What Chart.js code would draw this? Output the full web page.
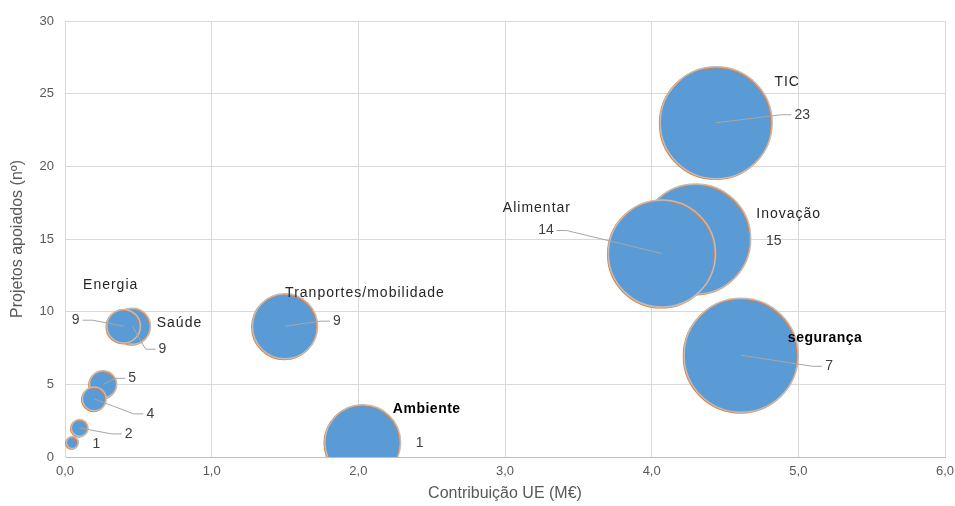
<!DOCTYPE html>
<html lang="pt">
<head>
<meta charset="utf-8">
<title>Projetos apoiados por setor</title>
<script src="https://cdn.jsdelivr.net/npm/chart.js@4.4.1/dist/chart.umd.min.js"></script>
<style>
  html, body { margin: 0; padding: 0; background: #fff; }
  #wrap { width: 955px; height: 506px; }
</style>
</head>
<body>
<div id="wrap"><canvas id="bChart"></canvas></div>
<script>
// Dados por setor (ordem de desenho: os últimos ficam por cima)
const setores = ["", "", "", "", "Saúde", "Energia", "Tranportes/mobilidade", "Ambiente", "Inovação", "Alimentar", "TIC", "segurança"];
const contribuicao = [0.05, 0.10, 0.26, 0.20, 0.46, 0.40, 1.50, 2.03, 4.30, 4.07, 4.44, 4.61]; // M€
const projetos = [1, 2, 5, 4, 9, 9, 9, 1, 15, 14, 23, 7];
const xTicks = [0, 1, 2, 3, 4, 5, 6];
const yTicks = [0, 5, 10, 15, 20, 25, 30];

// posição dos rótulos em px relativos ao centro da bolha
const rotulos = [
  { valor: [24, 2], guia: false },
  { valor: [49, 6], guia: true },
  { valor: [29, -6], guia: true },
  { valor: [56, 15], guia: true },
  { nome: [47, -3], valor: [30, 23], guia: true },
  { nome: [-13, -41], valor: [-48, -6], guia: true },
  { nome: [80, -33], valor: [52, -5], guia: true },
  { nome: [64, -33], valor: [57, 1], guia: false, negrito: true },
  { nome: [93, -25], valor: [78, 2], guia: false },
  { nome: [-125, -45], valor: [-116, -23], guia: true },
  { nome: [71, -41], valor: [86, -8], guia: true },
  { nome: [84, -17], valor: [88, 11], guia: true, negrito: true }
];

const RAIO_MAX = 57;
const maxContrib = Math.max(...contribuicao);
const pontos = contribuicao.map((c, i) => ({
  x: c,
  y: projetos[i],
  r: Math.sqrt(c / maxContrib) * RAIO_MAX
}));

const FONTE = "'Liberation Sans', Arial, sans-serif";

// contorno laranja discreto nas bolhas
const sombra = {
  id: "sombra",
  beforeDatasetDraw(chart) {
    const ctx = chart.ctx;
    ctx.save();
    ctx.shadowColor = "#ED7D31";
    ctx.shadowOffsetX = -0.7;
    ctx.shadowOffsetY = 0.7;
    ctx.shadowBlur = 0;
  },
  afterDatasetDraw(chart) {
    chart.ctx.restore();
  }
};

// rótulos de dados com linhas de chamada
const etiquetas = {
  id: "etiquetas",
  afterDatasetsDraw(chart) {
    const ctx = chart.ctx;
    const meta = chart.getDatasetMeta(0);
    ctx.save();
    ctx.textBaseline = "middle";
    ctx.textAlign = "center";
    meta.data.forEach((el, i) => {
      const cfg = rotulos[i];
      const cx = el.x, cy = el.y;
      const txt = String(projetos[i]);
      ctx.font = "14px " + FONTE;
      ctx.letterSpacing = "0px";
      const vx = cx + cfg.valor[0], vy = cy + cfg.valor[1];
      const half = ctx.measureText(txt).width / 2;
      if (cfg.guia) {
        const dir = vx > cx ? -1 : 1;
        const x0 = vx + dir * (half + 3);
        const x1 = x0 + dir * 10;
        ctx.strokeStyle = "#A6A6A6";
        ctx.lineWidth = 1;
        ctx.beginPath();
        ctx.moveTo(x0, vy);
        ctx.lineTo(x1, vy);
        ctx.lineTo(cx, cy);
        ctx.stroke();
      }
      ctx.fillStyle = "#404040";
      ctx.fillText(txt, vx, vy);
      if (cfg.nome && setores[i]) {
        ctx.font = (cfg.negrito ? "bold " : "") + "14px " + FONTE;
        ctx.letterSpacing = cfg.negrito ? "0.5px" : "1px";
        ctx.fillStyle = cfg.negrito ? "#000000" : "#262626";
        ctx.fillText(setores[i], cx + cfg.nome[0], cy + cfg.nome[1]);
      }
    });
    ctx.restore();
  }
};

new Chart(document.getElementById("bChart"), {
  type: "bubble",
  data: {
    datasets: [{
      label: "Projetos",
      data: pontos,
      backgroundColor: "#5B9BD5",
      borderColor: "#BDBDBD",
      borderWidth: 1.5,
      clip: 0
    }]
  },
  options: {
    responsive: true,
    maintainAspectRatio: false,
    animation: false,
    layout: { autoPadding: false, padding: { top: 21, right: 10, left: 0, bottom: 0 } },
    plugins: {
      legend: { display: false },
      tooltip: { enabled: false }
    },
    scales: {
      x: {
        type: "linear",
        min: xTicks[0],
        max: xTicks[xTicks.length - 1],
        afterBuildTicks: (s) => { s.ticks = xTicks.map(v => ({ value: v })); },
        afterFit: (s) => { s.height = 49; s.paddingLeft = 0; s.paddingRight = 0; },
        grid: { color: "#D9D9D9", drawTicks: false },
        border: { color: "#BFBFBF" },
        ticks: {
          padding: 7,
          color: "#595959",
          font: { family: FONTE, size: 13 },
          callback: (v) => v.toFixed(1).replace(".", ",")
        },
        title: {
          display: true,
          text: "Contribuição UE (M€)",
          color: "#595959",
          font: { family: FONTE, size: 16 },
          padding: { top: 0, bottom: 3 }
        }
      },
      y: {
        type: "linear",
        min: yTicks[0],
        max: yTicks[yTicks.length - 1],
        afterBuildTicks: (s) => { s.ticks = yTicks.map(v => ({ value: v })); },
        afterFit: (s) => { s.width = 65; s.paddingTop = 0; s.paddingBottom = 0; },
        grid: { color: "#D9D9D9", drawTicks: false },
        border: { color: "#D9D9D9" },
        ticks: {
          padding: 11,
          color: "#595959",
          font: { family: FONTE, size: 13 }
        },
        title: {
          display: true,
          text: "Projetos apoiados (nº)",
          color: "#595959",
          font: { family: FONTE, size: 16 },
          padding: { top: 8, bottom: 0 }
        }
      }
    }
  },
  plugins: [sombra, etiquetas]
});
</script>
</body>
</html>
